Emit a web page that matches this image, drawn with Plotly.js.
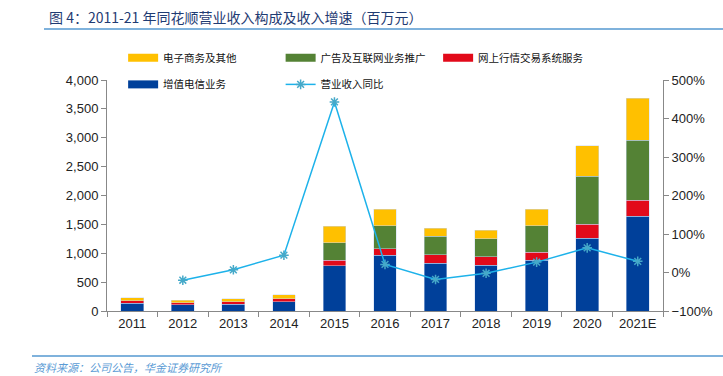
<!DOCTYPE html>
<html>
<head>
<meta charset="utf-8">
<script src="https://cdn.plot.ly/plotly-3.0.1.min.js"></script>
<style>html,body{margin:0;padding:0;background:#fff;}#chart{width:723px;height:376px;}</style>
</head>
<body>
<div id="chart"></div>
<script>
var years = ["2011","2012","2013","2014","2015","2016","2017","2018","2019","2020","2021E"];
var valueAdded = [133, 104, 116, 161, 784, 969, 830, 796, 882, 1258, 1644];
var tradingSys = [45, 40, 40, 47, 98, 109, 144, 144, 139, 242, 276];
var adsInternet = [0, 0, 0, 0, 300, 398, 324, 311, 455, 836, 1038];
var ecommerce = [52, 46, 52, 74, 288, 284, 138, 150, 284, 524, 722];
var revenueGrowth = [null, -20, 7, 45, 443, 21, -18, -2, 27, 64, 29];

var names = {blue:"增值电信业务", red:"网上行情交易系统服务", green:"广告及互联网业务推广", yellow:"电子商务及其他", line:"营业收入同比"};
var colors = {blue:"#00409A", red:"#E20A1A", green:"#548235", yellow:"#FFC000", line:"#1DB2EA", marker:"#45A9C9"};

var cjk = "Noto Sans CJK SC, sans-serif";
var latin = "Liberation Sans, Arial, sans-serif";

function bar(y, c, n){
  return {type:"bar", x:years, y:y, name:n, showlegend:false,
    marker:{color:c, line:{color:"rgba(200,215,240,0.6)", width:0.8}}, hoverinfo:"skip"};
}
function legendDummy(c, n, lg){
  return {type:"scatter", mode:"lines", x:[null], y:[null], name:n, legend:lg,
    line:{color:c, width:8}, hoverinfo:"skip"};
}

var data = [
  bar(valueAdded, colors.blue, names.blue),
  bar(tradingSys, colors.red, names.red),
  bar(adsInternet, colors.green, names.green),
  bar(ecommerce, colors.yellow, names.yellow),
  {type:"scatter", mode:"lines+markers", x:years, y:revenueGrowth, yaxis:"y2", name:names.line,
    legend:"legend2", legendrank:2, connectgaps:false,
    line:{color:colors.line, width:1.5},
    marker:{symbol:"asterisk-open", size:8, color:colors.marker, line:{color:colors.marker, width:1.5}}},
  legendDummy(colors.yellow, names.yellow, "legend"),
  legendDummy(colors.green, names.green, "legend"),
  legendDummy(colors.red, names.red, "legend"),
  legendDummy(colors.blue, names.blue, "legend2")
];
data[8].legendrank = 1;

var legendBase = {orientation:"h", yanchor:"middle", xanchor:"left", bgcolor:"rgba(0,0,0,0)",
  font:{family:cjk, size:10.5, color:"#111"}, entrywidth:112.5, entrywidthmode:"pixels",
  itemwidth:30, traceorder:"normal"};

var layout = {
  width:723, height:376,
  margin:{l:107, r:60, t:80, b:65},
  paper_bgcolor:"#fff", plot_bgcolor:"#fff",
  barmode:"stack", bargap:0.55,
  font:{family:latin, size:13, color:"#222"},
  xaxis:{type:"category", range:[-0.5,10.5], showline:true, linecolor:"#888", linewidth:1,
    ticks:"outside", tickson:"boundaries", ticklen:5, tickcolor:"#888", showgrid:false,
    tickfont:{family:latin, size:13, color:"#222"}, fixedrange:true},
  yaxis:{range:[0,4000], dtick:500, tickformat:",d", showline:true, linecolor:"#888", linewidth:1,
    ticks:"outside", ticklen:5, tickcolor:"#888", showgrid:false, zeroline:false,
    tickfont:{family:latin, size:13, color:"#222"}},
  yaxis2:{overlaying:"y", side:"right", range:[-100,500], dtick:100, ticksuffix:"%",
    showline:true, linecolor:"#888", linewidth:1, ticks:"outside", ticklen:5, tickcolor:"#888",
    showgrid:false, zeroline:false, tickfont:{family:latin, size:13, color:"#222"}},
  legend:Object.assign({}, legendBase, {x:0.029, y:1.0965}),
  legend2:Object.assign({}, legendBase, {x:0.029, y:0.981}),
  annotations:[
    {xref:"paper", yref:"paper", x:-0.108, y:1.273, xanchor:"left", yanchor:"middle", showarrow:false,
      text:"图 4：2011-21 年同花顺营业收入构成及收入增速（百万元）",
      font:{family:cjk, size:14, color:"#1F3B73"}},
    {xref:"paper", yref:"paper", x:-0.1349, y:-0.2424, xanchor:"left", yanchor:"middle", showarrow:false,
      text:"资料来源：公司公告，华金证券研究所",
      font:{family:cjk, size:11, color:"#5B9BD5", style:"italic"}}
  ],
  shapes:[
    {type:"line", xref:"paper", yref:"paper", x0:-0.1133, x1:1.108, y0:1.2208, y1:1.2208,
      line:{color:"#7FB2DC", width:2}},
    {type:"line", xref:"paper", yref:"paper", x0:-0.1349, x1:1.108, y0:-0.1948, y1:-0.1948,
      line:{color:"#7FB2DC", width:2}}
  ]
};

Plotly.newPlot("chart", data, layout, {displayModeBar:false, staticPlot:true});
</script>
</body>
</html>
